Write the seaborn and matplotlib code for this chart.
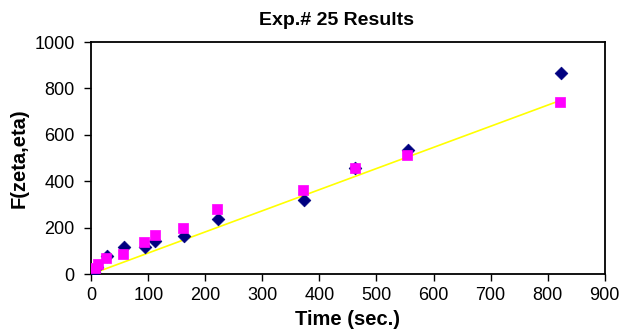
import matplotlib
matplotlib.use("Agg")
import matplotlib.pyplot as plt
import seaborn as sns
import pandas as pd

# Measured values (two runs) and the model line
time_a = [5, 10, 28, 57, 94, 112, 162, 223, 373, 462, 555, 824]
f_a = [10, 30, 77, 115, 117, 143, 164, 236, 319, 456, 535, 866]

time_b = [6, 11, 26, 56, 93, 112, 161, 221, 372, 462, 553, 822]
f_b = [24, 44, 67, 88, 136, 168, 200, 279, 362, 458, 514, 743]

fit_time = [8, 822]
fit_f = [7, 748]

x_ticks = [0, 100, 200, 300, 400, 500, 600, 700, 800, 900]
y_ticks = [0, 200, 400, 600, 800, 1000]

sns.set_style("white")
plt.rcParams["font.family"] = ["Liberation Sans", "DejaVu Sans"]
plt.rcParams.update({"text.color": "black", "axes.labelcolor": "black",
                     "xtick.color": "black", "ytick.color": "black"})

df_a = pd.DataFrame({"t": time_a, "F": f_a})
df_b = pd.DataFrame({"t": time_b, "F": f_b})
df_fit = pd.DataFrame({"t": fit_time, "F": fit_f})

fig = plt.figure(figsize=(6.24, 3.35), dpi=100)
ax = fig.add_axes([0.1463, 0.182, 0.8227, 0.6925])

sns.lineplot(data=df_fit, x="t", y="F", color="#FFFF00", linewidth=1.2, ax=ax, zorder=2)
sns.scatterplot(data=df_a, x="t", y="F", marker="D", color="#000080", s=42,
                edgecolor="#000080", linewidth=0.5, ax=ax, zorder=3)
sns.scatterplot(data=df_b, x="t", y="F", marker="s", color="#FF00FF", s=48,
                edgecolor="#FF00FF", linewidth=0.5, ax=ax, zorder=4)

ax.set_xlim(0, 900)
ax.set_ylim(0, 1000)
ax.set_xticks(x_ticks)
ax.set_yticks(y_ticks)
ax.tick_params(axis="both", direction="out", length=5, width=1, color="black",
               labelcolor="black", labelsize=13, bottom=True, left=True)
ax.tick_params(axis="y", pad=7)
ax.tick_params(axis="x", pad=4)
for s in ax.spines.values():
    s.set_color("black")
    s.set_linewidth(1.3)

ax.set_xlabel("Time (sec.)", fontsize=14.5, fontweight="bold", labelpad=5, color="black")
ax.set_ylabel("F(zeta,eta)", fontsize=14.5, fontweight="bold", labelpad=4, color="black")
ax.set_title("Exp.# 25 Results", fontsize=14, fontweight="bold", pad=12, x=0.477,
             color="black")

fig.savefig("out.png", dpi=100)
